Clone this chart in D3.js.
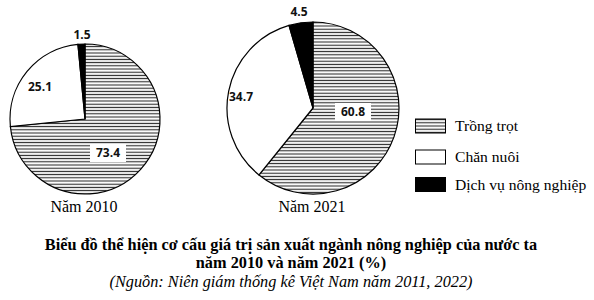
<!DOCTYPE html>
<html><head><meta charset="utf-8">
<script src="https://cdn.jsdelivr.net/npm/d3@7"></script>
<style>body{margin:0;background:#fff}svg{display:block}</style>
</head><body>
<svg id="c" width="594" height="300"></svg>
<script>
const categories = ["Trồng trọt", "Chăn nuôi", "Dịch vụ nông nghiệp"];
const years = ["Năm 2010", "Năm 2021"];
const values2010 = [73.4, 25.1, 1.5];
const values2021 = [60.8, 34.7, 4.5];
const titleLines = ["Biểu đồ thể hiện cơ cấu giá trị sản xuất ngành nông nghiệp của nước ta", "năm 2010 và năm 2021 (%)"];
const sourceLine = "(Nguồn: Niên giám thống kê Việt Nam năm 2011, 2022)";

const svg = d3.select("#c");
const defs = svg.append("defs");
const pat = defs.append("pattern").attr("id","hatch").attr("patternUnits","userSpaceOnUse")
  .attr("width",6).attr("height",3.2);
pat.append("rect").attr("width",6).attr("height",3.2).attr("fill","#fff");
pat.append("line").attr("x1",0).attr("x2",6).attr("y1",1.2).attr("y2",1.2).attr("stroke","#222").attr("stroke-width",1.1);

const fills = ["url(#hatch)", "#fff", "#000"];
const serif = "'Liberation Serif','Times New Roman',serif";
const sans = "'Open Sans','Liberation Sans',sans-serif";

const pies = [
  {vals: values2010, cx: 85, cy: 119, r: 75, capY: 212,
   labels: [{dx: 23, dy: 34, box: true}, {dx: -45, dy: -32}, {dx: -3, dy: -84}]},
  {vals: values2021, cx: 313, cy: 108, r: 86, capY: 212,
   labels: [{dx: 40, dy: 4, box: true}, {dx: -72, dy: -11}, {dx: -14, dy: -96}]}
];

const pie = d3.pie().sort(null).value(d => d);
pies.forEach((p, pi) => {
  const g = svg.append("g").attr("transform", `translate(${p.cx},${p.cy})`);
  const arc = d3.arc().innerRadius(0).outerRadius(p.r);
  const arcs = pie(p.vals);
  g.selectAll("path").data(arcs).enter().append("path")
    .attr("d", arc).attr("fill", (d,i) => fills[i])
    .attr("stroke", "#000").attr("stroke-width", 1.2);
  arcs.forEach((a, i) => {
    const L = p.labels[i];
    const t = d3.format(".1f")(p.vals[i]);
    if (L.box) {
      g.append("rect").attr("x", L.dx - 18).attr("y", L.dy - 9).attr("width", 36).attr("height", 18).attr("fill", "#fff");
    }
    g.append("text").attr("x", L.dx).attr("y", L.dy).attr("dy", "0.35em")
      .attr("text-anchor","middle").attr("font-family", sans).attr("font-weight","bold")
      .attr("font-size", 12).attr("fill","#111").text(t);
  });
  svg.append("text").attr("x", p.cx - 1).attr("y", p.capY).attr("text-anchor","middle")
    .attr("font-family", serif).attr("font-size", 16).attr("fill","#000").text(years[pi]);
});

// legend
const legY = [126, 157, 184.5];
categories.forEach((c, i) => {
  svg.append("rect").attr("x", 415.5).attr("y", legY[i] - 7).attr("width", 30).attr("height", 14)
    .attr("fill", fills[i]).attr("stroke","#000").attr("stroke-width",1);
  svg.append("text").attr("x", 455).attr("y", legY[i]).attr("dy","0.35em")
    .attr("font-family", serif).attr("font-size", 15.6).attr("fill","#000").text(c);
});

// title
titleLines.forEach((t, i) => {
  svg.append("text").attr("x", 291).attr("y", 250 + i*18).attr("text-anchor","middle")
    .attr("font-family", serif).attr("font-weight","bold").attr("font-size", 16.3).attr("fill","#000").text(t);
});
svg.append("text").attr("x", 291).attr("y", 287).attr("text-anchor","middle")
  .attr("font-family", serif).attr("font-style","italic").attr("font-size", 16.3).attr("fill","#000").text(sourceLine);
</script>
</body></html>
